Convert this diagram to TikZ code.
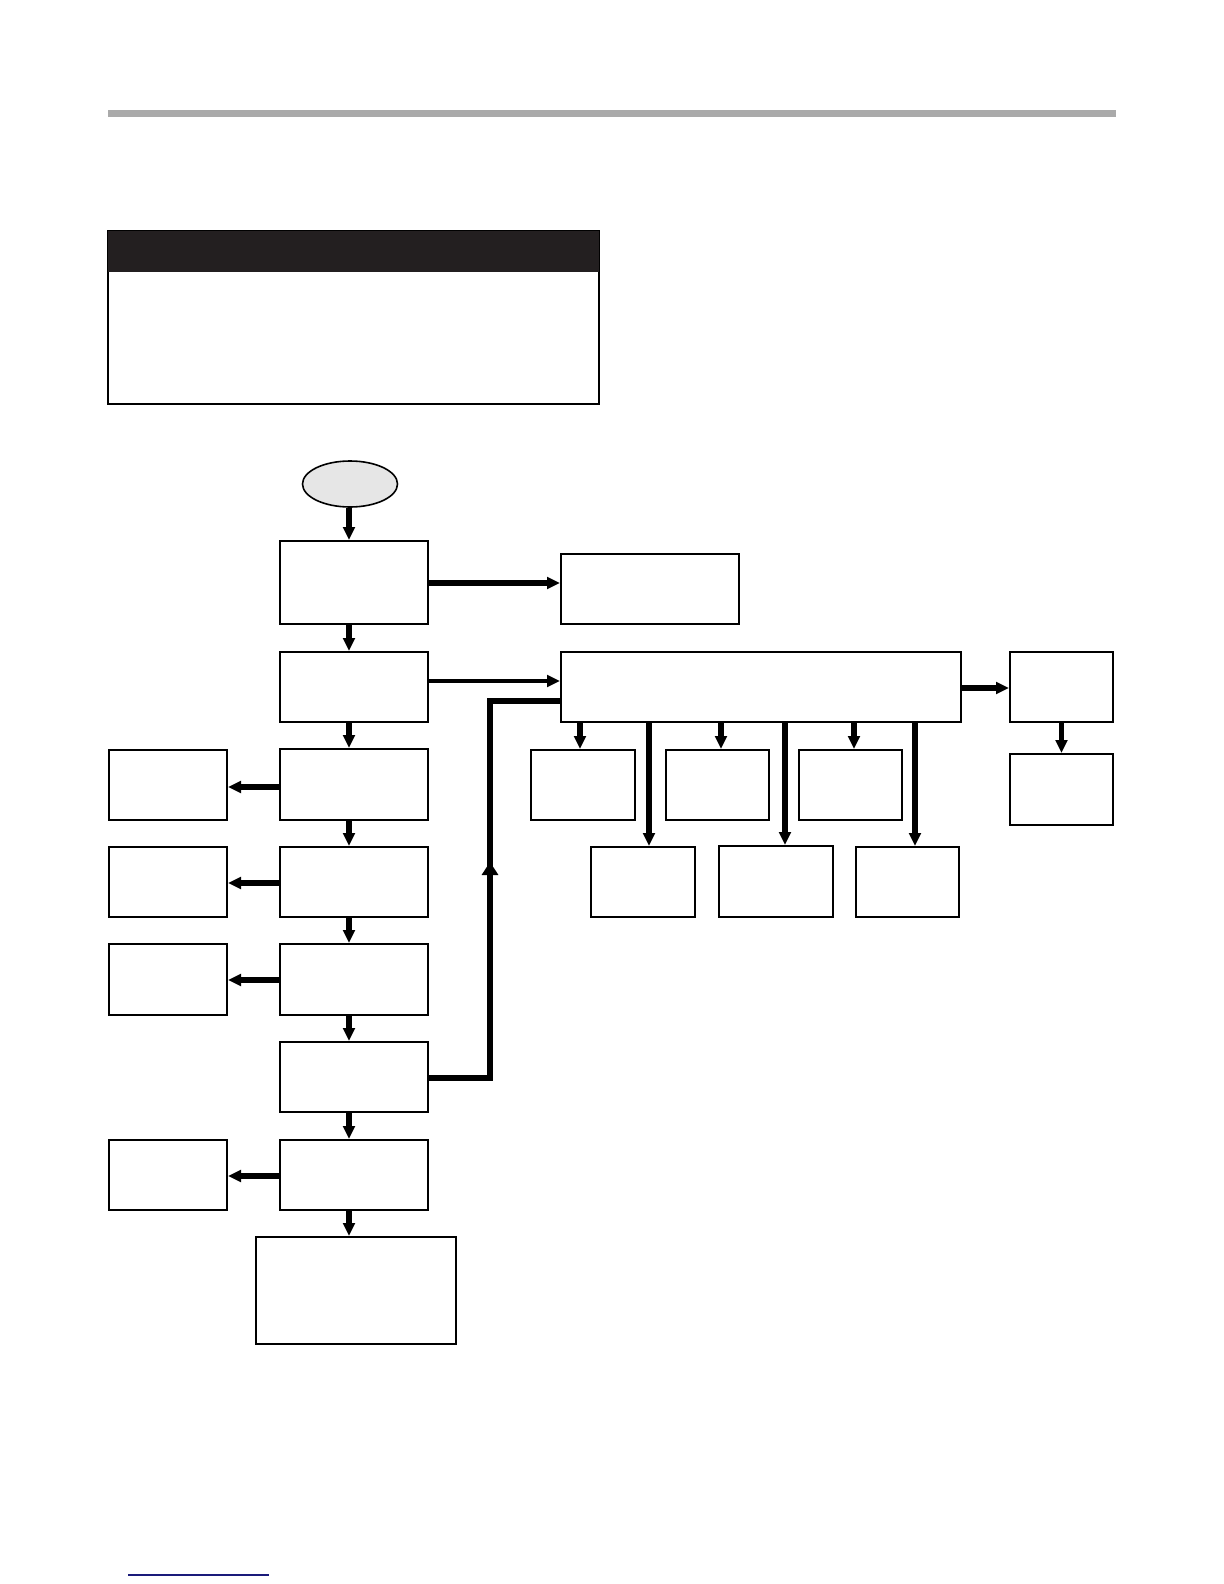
\documentclass[tikz,border=0pt]{standalone}
\usetikzlibrary{arrows.meta,shapes.geometric}
\definecolor{bargray}{HTML}{AAAAAA}
\definecolor{darkband}{HTML}{231F20}
\definecolor{ovalgray}{HTML}{E6E6E6}
\definecolor{linkblue}{HTML}{1A1A7A}
\begin{document}
\begin{tikzpicture}[x=0.5pt,y=-0.5pt,
  sz/.style 2 args={minimum width={#1*0.5pt},minimum height={#2*0.5pt}},
  box/.style={draw,line width=1pt,inner sep=0pt,fill=white},
  arr/.style={line width=2.6pt,-{Triangle[length=6.5pt,width=5.8pt]}},
  arrthin/.style={line width=2.1pt,-{Triangle[length=6.5pt,width=5.8pt]}},
  midarr/.style={line width=2.6pt,-{Triangle[length=6.5pt,width=8pt]}},
  pipe/.style={line width=2.6pt}]
\useasboundingbox (0,0) rectangle (1224,1584);
% top bar
\fill[bargray] (108,110) rectangle (1116,117);
% header box
\node[draw,line width=1.2pt,inner sep=0pt,sz={491}{173}] (hdr) at (353.5,317.5) {};
\fill[darkband] (108,231) rectangle (599,272);
% start oval
\node[ellipse,draw,line width=0.8pt,fill=ovalgray,inner sep=0pt,sz={95}{46}] (start) at (350,484) {};
% main column
\coordinate (cx) at (349,0);
\node[box,sz={148}{83}] (B1) at (354,582.5) {};
\node[box,sz={148}{70}] (B2) at (354,687) {};
\node[box,sz={148}{71}] (B3) at (354,784.5) {};
\node[box,sz={148}{70}] (B4) at (354,882) {};
\node[box,sz={148}{71}] (B5) at (354,979.5) {};
\node[box,sz={148}{70}] (B6) at (354,1077) {};
\node[box,sz={148}{70}] (B7) at (354,1175) {};
\node[box,sz={200}{107}] (B8) at (356,1290.5) {};
% left column
\node[box,sz={118}{70}] (L1) at (168,785) {};
\node[box,sz={118}{70}] (L2) at (168,882) {};
\node[box,sz={118}{71}] (L3) at (168,979.5) {};
\node[box,sz={118}{70}] (L4) at (168,1175) {};
% right side
\node[box,sz={178}{70}] (R1) at (650,589) {};
\node[box,sz={400}{70}] (W) at (761,687) {};
\node[box,sz={103}{70}] (F1) at (1061.5,687) {};
\node[box,sz={103}{71}] (F2) at (1061.5,789.5) {};
% row 1
\node[box,sz={104}{70}] (Ra) at (583,785) {};
\node[box,sz={103}{70}] (Rb) at (717.5,785) {};
\node[box,sz={103}{70}] (Rc) at (850.5,785) {};
% row 2
\node[box,sz={104}{70}] (Rd) at (643,882) {};
\node[box,sz={114}{71}] (Re) at (776,881.5) {};
\node[box,sz={103}{70}] (Rf) at (907.5,882) {};
% main column arrows
\draw[arr] (start.south -| cx) -- (B1.north -| cx);
\draw[arr] (B1.south -| cx) -- (B2.north -| cx);
\draw[arr] (B2.south -| cx) -- (B3.north -| cx);
\draw[arr] (B3.south -| cx) -- (B4.north -| cx);
\draw[arr] (B4.south -| cx) -- (B5.north -| cx);
\draw[arr] (B5.south -| cx) -- (B6.north -| cx);
\draw[arr] (B6.south -| cx) -- (B7.north -| cx);
\draw[arr] (B7.south -| cx) -- (B8.north -| cx);
% side arrows
\coordinate (y1) at (0,583);
\coordinate (y2) at (0,681);
\draw[arr] (B1.east |- y1) -- (R1.west |- y1);
\draw[arrthin] (B2.east |- y2) -- (W.west |- y2);
\coordinate (yl1) at (0,787);
\coordinate (yl2) at (0,883);
\coordinate (yl3) at (0,980);
\coordinate (yl4) at (0,1176);
\draw[arr] (B3.west |- yl1) -- (L1.east |- yl1);
\draw[arr] (B4.west |- yl2) -- (L2.east |- yl2);
\draw[arr] (B5.west |- yl3) -- (L3.east |- yl3);
\draw[arr] (B7.west |- yl4) -- (L4.east |- yl4);
% loop from B6 up to W
\coordinate (yb6) at (0,1078);
\coordinate (yw) at (0,701);
\coordinate (lx) at (490,0);
\draw[pipe] (B6.east |- yb6) -- (lx |- yb6) -- (lx |- yw) -- (W.west |- yw);
\coordinate (lt0) at (490,900);
\coordinate (lt1) at (490,862);
\draw[midarr] (lt0) -- (lt1);
% W to F1, F1 to F2
\coordinate (yf) at (0,688);
\draw[arr] (W.east |- yf) -- (F1.west |- yf);
\draw[arr] (F1.south) -- (F2.north);
% W down arrows
\coordinate (s1) at (580,0);
\coordinate (s2) at (721,0);
\coordinate (s3) at (854,0);
\coordinate (t1) at (649,0);
\coordinate (t2) at (785,0);
\coordinate (t3) at (915,0);
\draw[arr] (W.south -| s1) -- (Ra.north -| s1);
\draw[arr] (W.south -| s2) -- (Rb.north -| s2);
\draw[arr] (W.south -| s3) -- (Rc.north -| s3);
\draw[arr] (W.south -| t1) -- (Rd.north -| t1);
\draw[arr] (W.south -| t2) -- (Re.north -| t2);
\draw[arr] (W.south -| t3) -- (Rf.north -| t3);
% bottom blue rule
\draw[linkblue,line width=0.8pt] (128,1575) -- (269,1575);
\end{tikzpicture}
\end{document}
